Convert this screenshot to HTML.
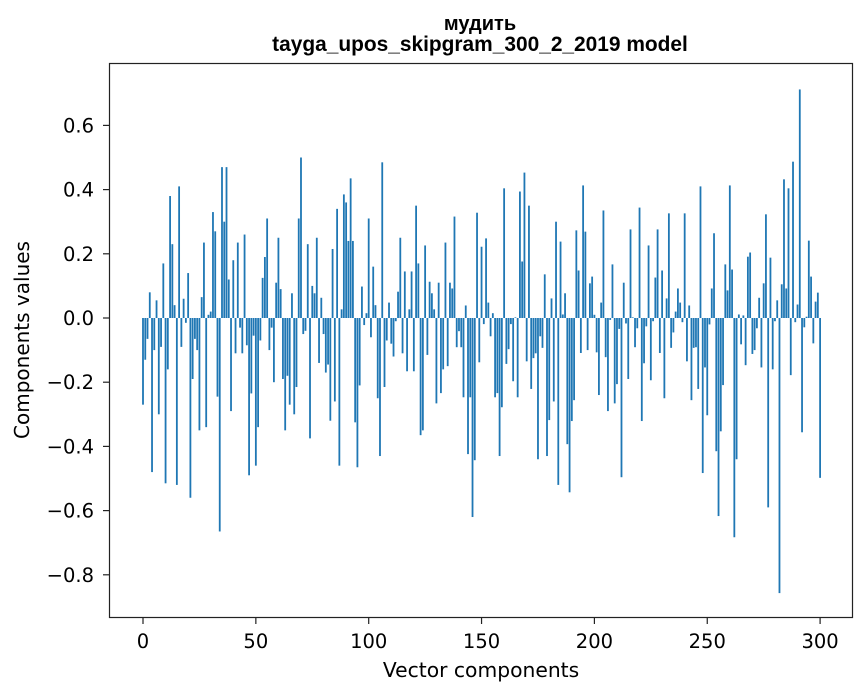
<!DOCTYPE html>
<html><head><meta charset="utf-8"><style>
body{margin:0;background:#fff;}
svg{display:block;font-family:"DejaVu Sans","Liberation Sans",sans-serif;}
</style></head><body>
<svg id="chart" width="867" height="696">
<text x="480" y="30" text-anchor="middle" font-size="20" font-weight="bold" font-family="Liberation Sans, sans-serif">мудить</text>
<text x="480" y="51" text-anchor="middle" font-size="20.9" font-weight="bold" font-family="Liberation Sans, sans-serif">tayga_upos_skipgram_300_2_2019 model</text>
<g id="bars"></g>
<rect x="109.5" y="63.5" width="743" height="554" fill="none" stroke="#222" stroke-width="1.2"/>
<g id="xt"></g>
<g id="yt"></g>
<text x="481" y="677" text-anchor="middle" font-size="20.3">Vector components</text>
<text transform="translate(29,340) rotate(-90)" text-anchor="middle" font-size="20">Components values</text>
</svg>
<script>
const values = [
-0.27,-0.13,-0.065,0.08,-0.48,-0.10,0.055,-0.30,-0.09,0.17,
-0.515,-0.16,0.38,0.23,0.04,-0.52,0.41,-0.09,0.06,-0.015,
0.14,-0.56,-0.19,-0.065,-0.10,-0.35,0.065,0.235,-0.34,0.01,0.02,
0.33,0.27,-0.245,-0.665,0.47,0.30,0.47,0.12,-0.29,0.18,
-0.11,0.235,-0.03,-0.11,0.26,-0.085,-0.49,-0.235,
-0.055,-0.46,-0.34,-0.07,0.125,0.19,0.31,-0.10,-0.03,-0.20,
0.11,0.25,0.09,-0.19,-0.35,-0.18,-0.27,0.077,-0.30,-0.215,
0.31,0.50,-0.05,-0.04,0.23,-0.375,0.10,0.077,0.25,-0.14,
0.063,-0.05,-0.17,-0.145,-0.32,0.215,-0.26,0.34,-0.46,0.027,
0.385,0.36,0.24,0.435,0.24,-0.325,-0.465,-0.21,0.098,-0.022,0.015,
0.31,-0.06,0.16,0.04,-0.25,-0.43,0.485,-0.215,-0.07,0.048,
-0.08,-0.12,-0.01,0.082,0.25,-0.11,0.145,-0.166,0.027,0.145,
-0.166,0.35,0.17,-0.365,-0.35,0.226,-0.115,0.113,0.077,0.027,
-0.266,0.11,-0.234,-0.16,0.235,-0.15,0.11,0.092,0.316,-0.091,
-0.041,-0.091,-0.247,0.039,-0.424,-0.247,-0.62,-0.443,0.328,-0.138,
0.222,-0.019,0.248,0.048,-0.057,0.015,-0.247,-0.234,-0.43,-0.278,
0.404,-0.143,-0.097,-0.019,-0.197,0.002,-0.247,0.394,0.176,0.453,
-0.135,0.35,-0.221,-0.125,-0.11,-0.44,-0.057,-0.093,0.136,-0.43,
-0.318,0.061,-0.26,0.30,-0.52,0.238,0.011,0.077,-0.393,-0.543,
-0.321,-0.256,0.273,0.148,-0.109,0.413,0.269,-0.10,0.108,0.129,0.01,
-0.107,-0.24,0.048,0.335,-0.122,-0.29,-0.006,0.167,-0.266,-0.206,
-0.034,-0.496,0.11,-0.017,-0.19,0.276,0.002,-0.091,-0.032,0.344,
-0.321,-0.141,-0.026,0.226,-0.194,-0.01,0.126,0.276,-0.109,0.148,
-0.25,0.061,0.326,-0.093,-0.045,0.02,0.092,0.048,-0.013,0.326,
-0.135,0.039,-0.256,-0.093,-0.091,-0.221,0.41,-0.483,-0.154,-0.303,-0.02,
0.092,0.264,-0.415,-0.617,-0.353,-0.209,0.167,0.086,0.413,0.151,
-0.683,-0.44,0.011,-0.082,0.008,-0.147,0.191,0.204,-0.112,-0.10,
-0.032,0.063,-0.154,0.108,0.323,-0.59,0.188,-0.16,-0.01,0.055,
-0.857,0.105,0.432,0.092,0.404,-0.178,0.487,-0.013,0.042,0.712,
-0.356,-0.029,0.004,0.241,0.129,-0.079,0.051,0.079,-0.498
];
const xTicks = [0,50,100,150,200,250,300];
const yTicks = [-0.8,-0.6,-0.4,-0.2,0.0,0.2,0.4,0.6];
const NS="http://www.w3.org/2000/svg";
function xs(i){return 143+i*2.257;}
function ys(v){return 318-v*321;}
const bars=document.getElementById('bars');
values.forEach((v,i)=>{
  const r=document.createElementNS(NS,'rect');
  const y0=ys(0),y1=ys(v);
  r.setAttribute('x',xs(i)-0.9);
  r.setAttribute('width',1.8);
  r.setAttribute('y',Math.min(y0,y1));
  r.setAttribute('height',Math.abs(y1-y0));
  r.setAttribute('fill','#1f77b4');
  
  
  bars.appendChild(r);
});
const xt=document.getElementById('xt');
xTicks.forEach(t=>{
  const l=document.createElementNS(NS,'line');
  l.setAttribute('x1',xs(t));l.setAttribute('x2',xs(t));
  l.setAttribute('y1',618);l.setAttribute('y2',624);l.setAttribute('stroke','#222');l.setAttribute('stroke-width','1.2');
  
  
  xt.appendChild(l);
  const tx=document.createElementNS(NS,'text');
  tx.setAttribute('x',xs(t));tx.setAttribute('y',648);
  tx.setAttribute('text-anchor','middle');tx.setAttribute('font-size','19.5');
  tx.textContent=t;
  
  
  xt.appendChild(tx);
});
const yt=document.getElementById('yt');
yTicks.forEach(t=>{
  const l=document.createElementNS(NS,'line');
  l.setAttribute('x1',103);l.setAttribute('x2',109);
  l.setAttribute('y1',ys(t));l.setAttribute('y2',ys(t));l.setAttribute('stroke','#222');l.setAttribute('stroke-width','1.2');
  
  
  yt.appendChild(l);
  const tx=document.createElementNS(NS,'text');
  tx.setAttribute('x',94);tx.setAttribute('y',ys(t)+7);
  tx.setAttribute('text-anchor','end');tx.setAttribute('font-size','19.5');
  tx.textContent=(t<0?'\u2212':'')+Math.abs(t).toFixed(1);
  
  
  yt.appendChild(tx);
});
</script>
</body></html>
